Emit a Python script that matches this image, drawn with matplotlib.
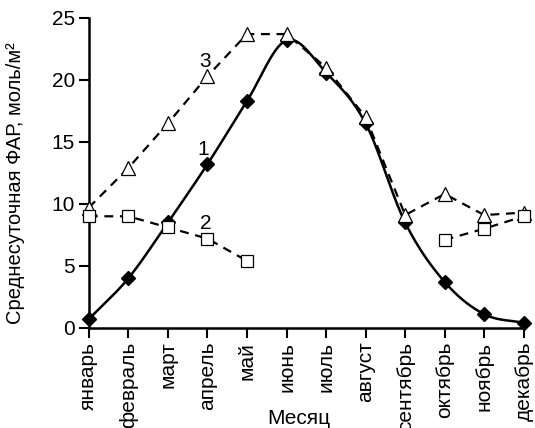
import numpy as np
import matplotlib

matplotlib.use("Agg")
import matplotlib.pyplot as plt

plt.rcParams["font.family"] = ["Liberation Sans", "DejaVu Sans"]

months = ["январь", "февраль", "март", "апрель", "май", "июнь",
          "июль", "август", "сентябрь", "октябрь", "ноябрь", "декабрь"]
par_1 = [0.7, 4.0, 8.5, 13.2, 18.3, 23.2, 20.6, 16.5, 8.5, 3.7, 1.1, 0.4]
par_2 = [9.0, 9.0, 8.1, 7.2, 5.4, None, None, None, None, 7.1, 8.0, 9.0]
par_3 = [9.7, 12.9, 16.5, 20.3, 23.7, 23.7, 21.0, 17.0, 9.1, 10.8, 9.1, 9.3]


def smooth(x, y, n=20):
    # Catmull-Rom curve through the points, like Excel's smoothed line
    x = np.asarray(x, float)
    y = np.asarray(y, float)
    px = np.concatenate([[2 * x[0] - x[1]], x, [2 * x[-1] - x[-2]]])
    py = np.concatenate([[2 * y[0] - y[1]], y, [2 * y[-1] - y[-2]]])
    t = np.linspace(0, 1, n, endpoint=False)
    xs, ys = [], []
    for i in range(1, len(px) - 2):
        for p, out in ((px, xs), (py, ys)):
            p0, p1, p2, p3 = p[i - 1], p[i], p[i + 1], p[i + 2]
            out.extend(0.5 * (2 * p1 + (-p0 + p2) * t
                              + (2 * p0 - 5 * p1 + 4 * p2 - p3) * t ** 2
                              + (-p0 + 3 * p1 - 3 * p2 + p3) * t ** 3))
    xs.append(x[-1])
    ys.append(y[-1])
    return np.array(xs), np.array(ys)


x = np.arange(len(months))
fig = plt.figure(figsize=(5.35, 4.28), dpi=100)
ax = fig.add_axes([0.166, 0.234, 0.813, 0.724])

sx, sy = smooth(x, par_1)
ax.plot(sx, sy, color="black", lw=1.8, clip_on=False, zorder=3)
ax.plot(x, par_1, ls="none", marker="D", ms=7, color="black", clip_on=False, zorder=4)

ax.plot(x, par_3, color="black", lw=1.6, ls=(0, (4, 3)), marker="^", ms=10,
        mfc="white", mec="black", mew=0.9, clip_on=False, zorder=5)

y2 = np.array([np.nan if v is None else v for v in par_2])
ax.plot(x, y2, color="black", lw=1.6, ls=(0, (4, 3)), marker="s", ms=9,
        mfc="white", mec="black", mew=0.9, clip_on=False, zorder=5)

ax.text(2.9, 14.4, "1", fontsize=15, ha="center", va="center")
ax.text(2.95, 8.4, "2", fontsize=15, ha="center", va="center")
ax.text(2.95, 21.5, "3", fontsize=15, ha="center", va="center")

ax.set_xlim(0, 11)
ax.set_ylim(0, 25)
ax.set_yticks([0, 5, 10, 15, 20, 25])
ax.set_xticks(x)
ax.set_xticklabels(months, rotation=90)
ax.tick_params(axis="both", labelsize=15, width=1.5, length=7, direction="out", pad=3)
for s in ("top", "right"):
    ax.spines[s].set_visible(False)
for s in ("left", "bottom"):
    ax.spines[s].set_linewidth(1.8)

fig.text(299 / 535, 1 - 418 / 428, "Месяц", fontsize=15, ha="center", va="center")
fig.text(16 / 535, 1 - 183 / 428, "Среднесуточная ФАР, моль/м²", fontsize=14.5,
         rotation=90, ha="center", va="center")

fig.savefig("out.png", dpi=100)
